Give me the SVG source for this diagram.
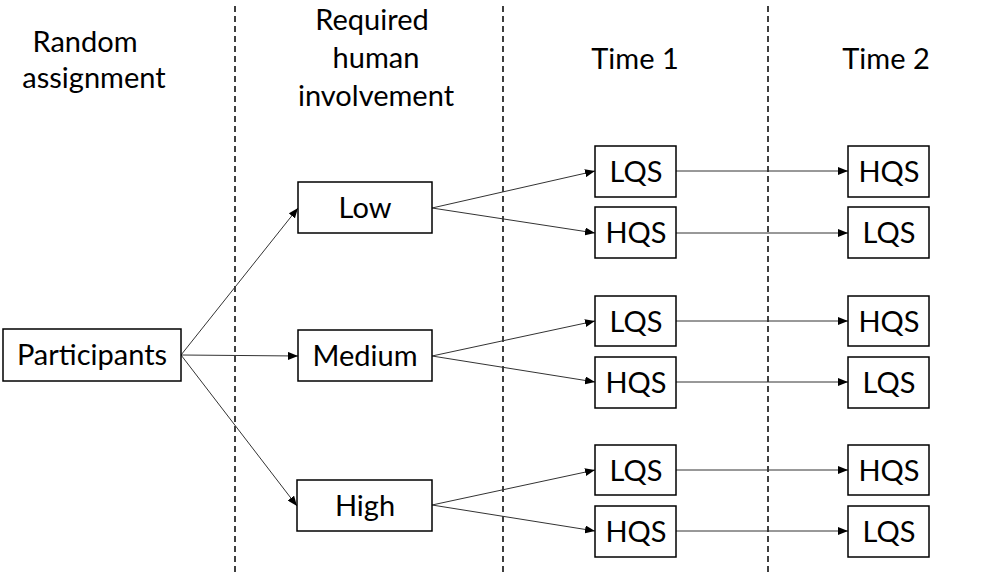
<svg xmlns="http://www.w3.org/2000/svg" width="1001" height="575" viewBox="0 0 1001 575">
<defs>
<marker id="ah" markerWidth="10" markerHeight="8" refX="10" refY="4" orient="auto" markerUnits="userSpaceOnUse"><path d="M0,0 L10,4 L0,8 Z" fill="#000"/></marker>
<style>
text{font-family:Lato,"Open Sans",sans-serif;font-size:29px;fill:#000;text-anchor:middle}
rect{fill:#fff;stroke:#000;stroke-width:1.5}
.d{stroke:#000;stroke-width:1.5;stroke-dasharray:6,4}
.c line{stroke:#333;stroke-width:1;marker-end:url(#ah)}
</style>
</defs>
<rect x="0" y="0" width="1001" height="575" style="stroke:none"/>
<g id="dividers">
<line class="d" x1="235" y1="6" x2="235" y2="575"/>
<line class="d" x1="503" y1="6" x2="503" y2="575"/>
<line class="d" x1="768" y1="6" x2="768" y2="575"/>
</g>
<g id="headers">
<text x="85" y="52">Random</text>
<text x="94" y="88">assignment</text>
<text x="372" y="30">Required</text>
<text x="376" y="68">human</text>
<text x="376" y="106">involvement</text>
<text x="635" y="69">Time 1</text>
<text x="886" y="69">Time 2</text>
</g>
<g class="c" id="connectors">
<line x1="181" y1="355" x2="298" y2="208"/>
<line x1="181" y1="355" x2="298" y2="356"/>
<line x1="181" y1="355" x2="297" y2="506"/>
<line x1="432" y1="208" x2="595" y2="171"/>
<line x1="432" y1="208" x2="595" y2="233"/>
<line x1="432" y1="356" x2="595" y2="321"/>
<line x1="432" y1="356" x2="595" y2="382"/>
<line x1="432" y1="505" x2="595" y2="470"/>
<line x1="432" y1="505" x2="595" y2="531"/>
<line x1="676" y1="171" x2="848" y2="171"/>
<line x1="676" y1="233" x2="848" y2="233"/>
<line x1="676" y1="321" x2="848" y2="321"/>
<line x1="676" y1="382" x2="848" y2="382"/>
<line x1="676" y1="470" x2="848" y2="470"/>
<line x1="676" y1="531" x2="848" y2="531"/>
</g>
<g id="participants"><rect x="3" y="329" width="178" height="52"/><text x="92" y="365">Participants</text></g>
<g id="low"><rect x="298" y="182" width="134" height="51"/><text x="365" y="218">Low</text></g>
<g id="medium"><rect x="298" y="330" width="134" height="51"/><text x="365" y="366">Medium</text></g>
<g id="high"><rect x="297" y="480" width="135" height="51"/><text x="365" y="516">High</text></g>
<g id="t1a"><rect x="595" y="146" width="81" height="51"/><text x="636" y="182">LQS</text></g>
<g id="t1b"><rect x="595" y="207" width="81" height="51"/><text x="636" y="243">HQS</text></g>
<g id="t1c"><rect x="595" y="296" width="81" height="50"/><text x="636" y="332">LQS</text></g>
<g id="t1d"><rect x="595" y="357" width="81" height="51"/><text x="636" y="393">HQS</text></g>
<g id="t1e"><rect x="595" y="445" width="81" height="50"/><text x="636" y="481">LQS</text></g>
<g id="t1f"><rect x="595" y="506" width="81" height="51"/><text x="636" y="542">HQS</text></g>
<g id="t2a"><rect x="848" y="146" width="81" height="51"/><text x="889" y="182">HQS</text></g>
<g id="t2b"><rect x="848" y="207" width="81" height="51"/><text x="889" y="243">LQS</text></g>
<g id="t2c"><rect x="848" y="296" width="81" height="50"/><text x="889" y="332">HQS</text></g>
<g id="t2d"><rect x="848" y="357" width="81" height="51"/><text x="889" y="393">LQS</text></g>
<g id="t2e"><rect x="848" y="445" width="81" height="50"/><text x="889" y="481">HQS</text></g>
<g id="t2f"><rect x="848" y="506" width="81" height="51"/><text x="889" y="542">LQS</text></g>
</svg>
